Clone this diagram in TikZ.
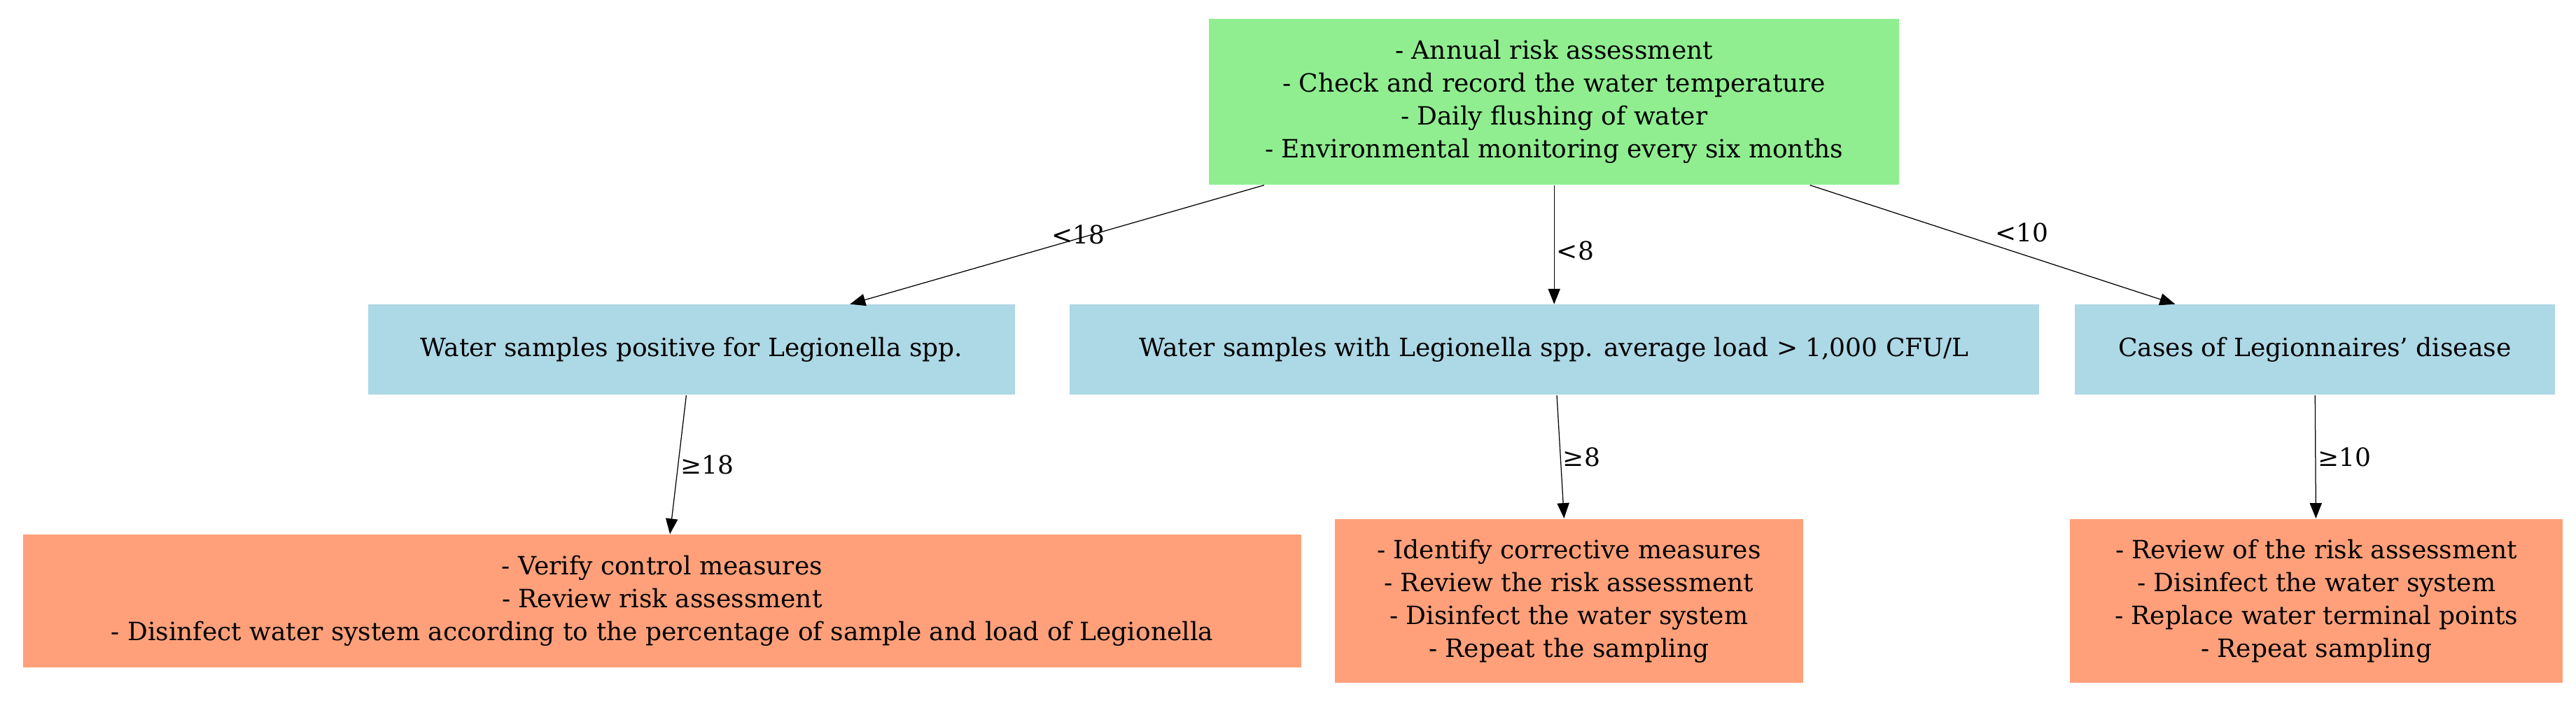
\documentclass[tikz,border=0pt]{standalone}
\usepackage{fontspec}
\setmainfont{DejaVu Serif}
\usetikzlibrary{arrows.meta}
\definecolor{verdechiaro}{RGB}{144,238,144}
\definecolor{azzurro}{RGB}{173,216,230}
\definecolor{salmone}{RGB}{255,160,122}
\tikzset{
  flow/.style={
    box/.style={rectangle, align=center, inner sep=0pt,
      font={\fontsize{11.5}{15}\selectfont}},
    measures/.style={box, fill=verdechiaro},
    trigger/.style={box, fill=azzurro},
    action/.style={box, fill=salmone},
    link/.style={draw=black, -{Triangle[length=7pt,width=5.5pt]}},
    link label/.style={font={\fontsize{11.5}{14}\selectfont}, inner sep=1pt},
  }
}
\begin{document}
\begin{tikzpicture}[flow, x=0.75pt, y=-0.75pt]
    \useasboundingbox (0,0) rectangle (1568,431);

    \node[measures, minimum width=315pt, minimum height=75.75pt] (top) at (946,62)
        {- Annual risk assessment\\- Check and record the water temperature\\- Daily flushing of water\\- Environmental monitoring every six months};

    \node[trigger, minimum width=295.5pt, minimum height=41.25pt] (positive) at (421,213)
        {Water samples positive for Legionella spp.};
    \node[trigger, minimum width=442.5pt, minimum height=41.25pt] (load) at (946,213)
        {Water samples with Legionella spp. average load > 1,000 CFU/L};
    \node[trigger, minimum width=219pt, minimum height=41.25pt] (cases) at (1409,213)
        {Cases of Legionnaires’ disease};

    \node[action, minimum width=583.5pt, minimum height=60.75pt] (verify) at (403,366)
        {- Verify control measures\\- Review risk assessment\\- Disinfect water system according to the percentage of sample and load of Legionella};
    \node[action, minimum width=213.75pt, minimum height=75pt] (identify) at (955,366)
        {- Identify corrective measures\\- Review the risk assessment\\- Disinfect the water system\\- Repeat the sampling};
    \node[action, minimum width=225pt, minimum height=75pt] (review) at (1410,366)
        {- Review of the risk assessment\\- Disinfect the water system\\- Replace water terminal points\\- Repeat sampling};

    % edges
    \draw[link] (top) -- (positive) node[link label, pos=0.52, above right] {<18};
    \draw[link] (top) -- node[link label, right, pos=0.55] {<8} (load);
    \draw[link] (top) -- (cases) node[link label, pos=0.5, above right] {<10};
    \draw[link] (positive) -- node[link label, right] {≥18} (verify);
    \draw[link] (load) -- node[link label, right] {≥8} (identify);
    \draw[link] (cases) -- node[link label, right] {≥10} (review);
\end{tikzpicture}
\end{document}
